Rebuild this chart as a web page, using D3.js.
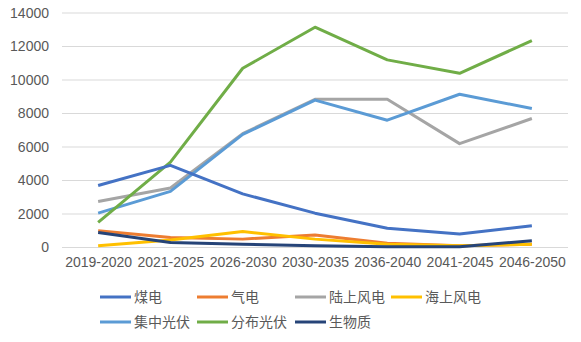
<!DOCTYPE html>
<html><head><meta charset="utf-8">
<script src="https://cdn.jsdelivr.net/npm/d3@7"></script>
<style>body{margin:0;background:#fff;}svg{display:block;}</style>
</head><body>
<svg id="chart" width="581" height="342"></svg>
<script>
const categories = ["2019-2020","2021-2025","2026-2030","2030-2035","2036-2040","2041-2045","2046-2050"];
const seriesNames = ["煤电","气电","陆上风电","海上风电","集中光伏","分布光伏","生物质"];
const seriesColors = ["#4472C4","#ED7D31","#A5A5A5","#FFC000","#5B9BD5","#70AD47","#264478"];
const coal     = [3700, 4900, 3200, 2050, 1150, 800, 1300];
const gas      = [1000, 600, 500, 750, 250, 100, 200];
const onshore  = [2750, 3550, 6800, 8850, 8850, 6200, 7700];
const offshore = [100, 450, 950, 500, 200, 100, 200];
const central  = [2050, 3350, 6750, 8800, 7600, 9150, 8300];
const distrib  = [1500, 5100, 10700, 13150, 11200, 10400, 12350];
const biomass  = [900, 300, 200, 100, 50, 50, 400];
const yTicks = [0, 2000, 4000, 6000, 8000, 10000, 12000, 14000];
const seriesValues = [coal, gas, onshore, offshore, central, distrib, biomass];
const drawOrder = [2, 4, 5, 0, 1, 3, 6];

(function () {
const svg = d3.select("#chart");
const pLeft = 62, pRight = 568, pTop = 13, pBottom = 247.5;
const x = d3.scalePoint().domain(categories).range([pLeft, pRight]).padding(0.5);
const y = d3.scaleLinear().domain([0, 14000]).range([pBottom, pTop]);
const font = "'Liberation Sans', Arial, sans-serif";

svg.append("g").selectAll("line").data(yTicks).join("line")
  .attr("x1", pLeft).attr("x2", pRight)
  .attr("y1", d => y(d)).attr("y2", d => y(d))
  .attr("stroke", "#D9D9D9").attr("stroke-width", 1);

const yAxis = svg.append("g").attr("transform", `translate(${pLeft},0)`)
  .call(d3.axisLeft(y).tickValues(yTicks).tickSize(0).tickPadding(13).tickFormat(d3.format("d")));
yAxis.select(".domain").remove();
yAxis.selectAll("text").attr("font-family", font).attr("font-size", 14).attr("fill", "#595959");

const xAxis = svg.append("g").attr("transform", `translate(0,${pBottom})`)
  .call(d3.axisBottom(x).tickSize(0).tickPadding(10));
xAxis.select(".domain").remove();
xAxis.selectAll("text").attr("font-family", font).attr("font-size", 14).attr("fill", "#595959");

const line = d3.line().x((d, i) => x(categories[i])).y(d => y(d));
svg.append("g").selectAll("path").data(drawOrder).join("path")
  .attr("d", i => line(seriesValues[i]))
  .attr("fill", "none")
  .attr("stroke", i => seriesColors[i])
  .attr("stroke-width", 3)
  .attr("stroke-linejoin", "round");

const legendPos = [[100,297],[197,297],[295,297],[391,297],[100,322],[197,322],[295,322]];
const lg = svg.append("g").selectAll("g").data(seriesNames).join("g")
  .attr("transform", (d, i) => `translate(${legendPos[i][0]},${legendPos[i][1]})`);
lg.append("line").attr("x1", 0).attr("x2", 31).attr("y1", 0).attr("y2", 0)
  .attr("stroke", (d, i) => seriesColors[i]).attr("stroke-width", 3);
lg.append("text").attr("x", 34).attr("y", 0).attr("dy", "0.35em")
  .attr("font-family", "'Noto Sans CJK SC', sans-serif").attr("font-size", 14)
  .attr("fill", "#595959").text(d => d);
})();
</script>
</body></html>
